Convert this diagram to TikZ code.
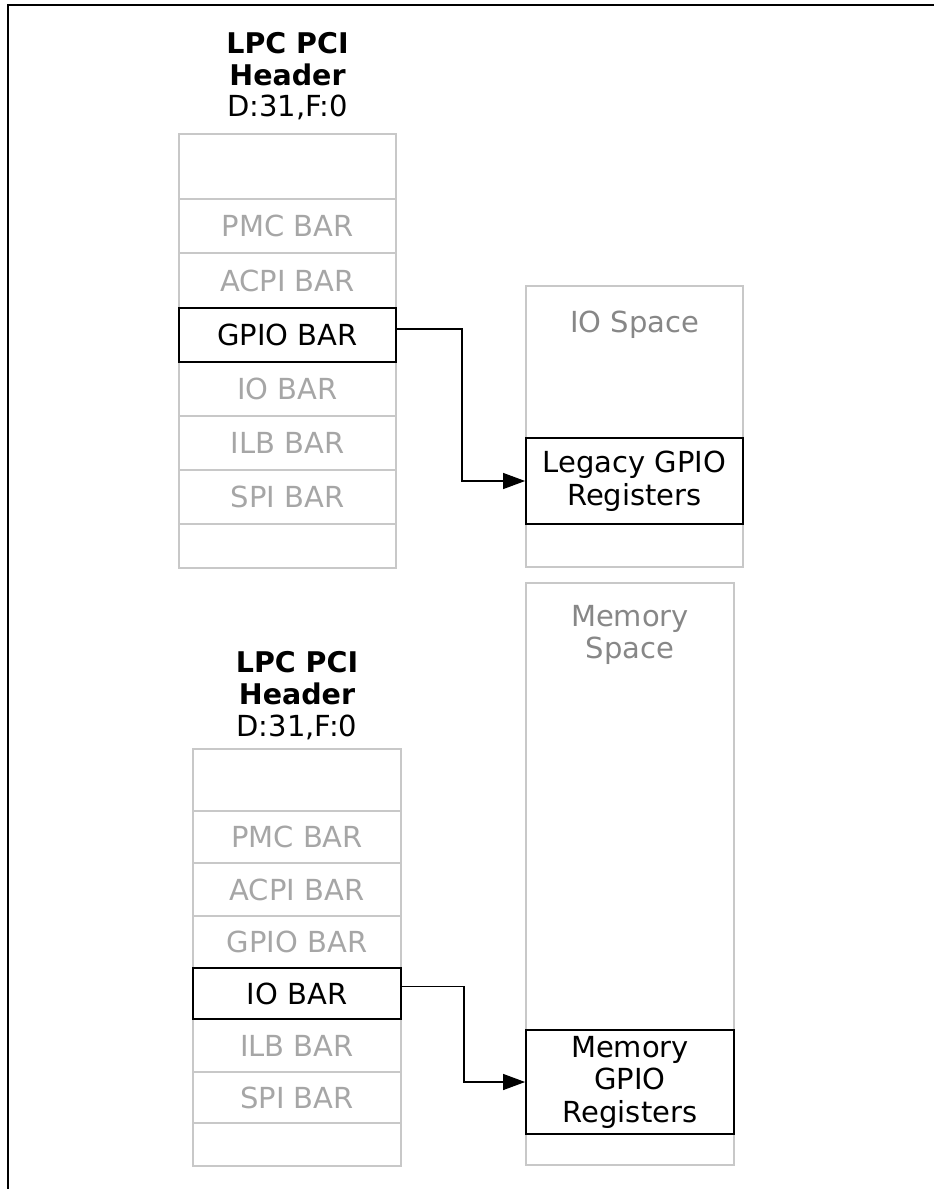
\documentclass[tikz,border=0pt]{standalone}
\usepackage{fontspec}
\setmainfont{DejaVu Sans}
\usetikzlibrary{arrows.meta}
\definecolor{boxgrey}{HTML}{C8C8C8}
\definecolor{txtgrey}{HTML}{A6A6A6}
\definecolor{lblgrey}{HTML}{878787}
\begin{document}
\begin{tikzpicture}[x=1pt,y=-1pt,
  regfont/.style={font=\fontsize{29}{32.5}\selectfont},
  titlefont/.style={font=\fontsize{28.5}{31}\selectfont\bfseries},
  cell/.style={draw=boxgrey,line width=1.8pt,inner sep=0pt,text=txtgrey,regfont},
  sel/.style={draw=black,line width=1.8pt,inner sep=0pt,text=black,regfont},
  topcol/.style={minimum width=217pt},
  botcol/.style={minimum width=208pt},
  space/.style={draw=boxgrey,line width=1.8pt,inner sep=0pt},
  reg/.style={draw=black,line width=1.8pt,inner sep=0pt,fill=white,text=black,regfont,align=center},
  lbl/.style={inner sep=0pt,text=lblgrey,regfont,align=center},
  ttl/.style={inner sep=0pt,anchor=base,titlefont},
  sub/.style={inner sep=0pt,anchor=base,regfont},
  conn/.style={draw=black,line width=1.2pt,-{Triangle[length=22pt,width=16pt]}},
  frame/.style={draw=black,line width=2pt}
]
\useasboundingbox (0,0) rectangle (934,1189);

% frame
\coordinate (ftr) at (934,4.5);
\coordinate (ftl) at (7.5,4.5);
\coordinate (fbl) at (7.5,1189);
\draw[frame] (ftr) -- (ftl) -- (fbl);

% top header
\node[ttl] (t1a) at (287.5,53) {LPC PCI};
\node[ttl] (t1b) at (287.5,85) {Header};
\node[sub] (t1c) at (287.5,116) {D:31,F:0};

\node[cell,topcol,minimum height=65pt] (a0) at (287.5,166.5) {};
\node[cell,topcol,minimum height=54pt] (a1) at (287.5,226) {PMC BAR};
\node[cell,topcol,minimum height=55pt] (a2) at (287.5,280.5) {ACPI BAR};
\node[cell,topcol,minimum height=54pt] (a4) at (287.5,389) {IO BAR};
\node[cell,topcol,minimum height=54pt] (a5) at (287.5,443) {ILB BAR};
\node[cell,topcol,minimum height=54pt] (a6) at (287.5,497) {SPI BAR};
\node[cell,topcol,minimum height=44pt] (a7) at (287.5,546) {};
\node[sel,topcol,minimum height=54pt] (a3) at (287.5,335) {GPIO BAR};

% bottom header
\node[ttl] (t2a) at (297,672) {LPC PCI};
\node[ttl] (t2b) at (297,704) {Header};
\node[sub] (t2c) at (297,736) {D:31,F:0};

\node[cell,botcol,minimum height=62pt] (b0) at (297,780) {};
\node[cell,botcol,minimum height=52pt] (b1) at (297,837) {PMC BAR};
\node[cell,botcol,minimum height=53pt] (b2) at (297,889.5) {ACPI BAR};
\node[cell,botcol,minimum height=52pt] (b3) at (297,942) {GPIO BAR};
\node[cell,botcol,minimum height=53pt] (b5) at (297,1045.5) {ILB BAR};
\node[cell,botcol,minimum height=51pt] (b6) at (297,1097.5) {SPI BAR};
\node[cell,botcol,minimum height=43pt] (b7) at (297,1144.5) {};
\node[sel,botcol,minimum height=51pt] (b4) at (297,993.5) {IO BAR};

% IO space
\node[space,minimum width=217pt,minimum height=281pt] (iosp) at (634.5,426.5) {};
\node[lbl,anchor=base] (iolbl) at (634.5,332) {IO Space};
\node[reg,minimum width=217pt,minimum height=86pt] (leg) at (634.5,481) {Legacy GPIO\\Registers};

% Memory space
\node[space,minimum width=208pt,minimum height=582pt] (memsp) at (630,874) {};
\node[lbl,anchor=north] (memlbl) at (630,605) {Memory\\Space};
\node[reg,minimum width=208pt,minimum height=104pt] (memg) at (630,1082) {Memory\\GPIO\\Registers};

% connectors
\draw[conn] ([yshift=6pt]a3.east) -- ++(65,0) |- (leg.west);
\draw[conn] ([yshift=7pt]b4.east) -- ++(62,0) |- (memg.west);
\end{tikzpicture}
\end{document}
